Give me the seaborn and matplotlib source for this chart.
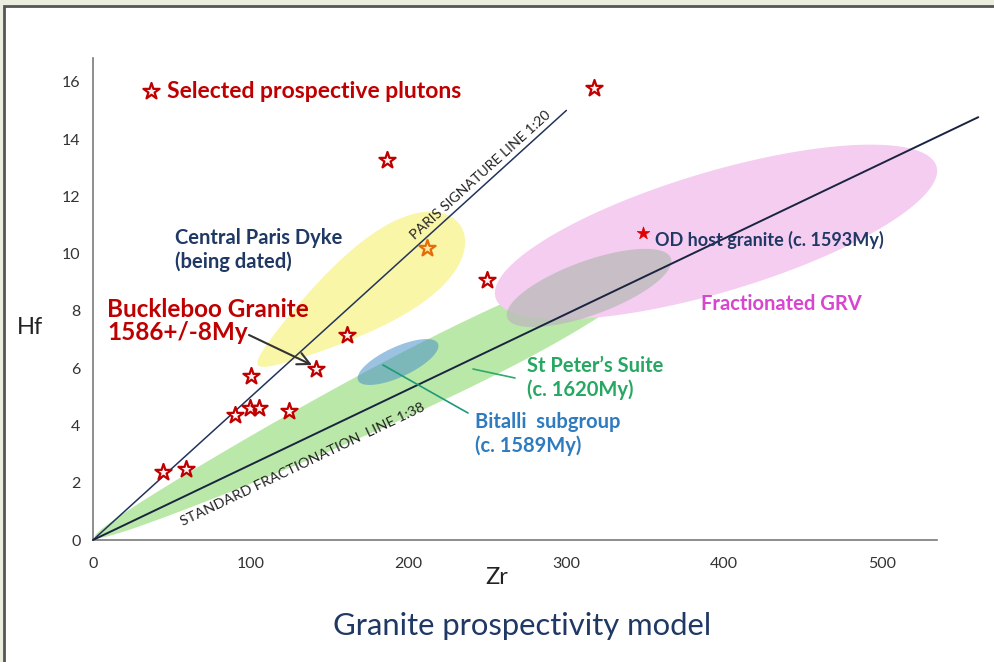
import numpy as np
import matplotlib
matplotlib.use("Agg")
import matplotlib.pyplot as plt
from matplotlib.patches import Polygon, Rectangle
import seaborn as sns

# ---------------- data ----------------
# Selected prospective plutons (Zr, Hf in ppm)
pluton_zr = [317.5, 186.3, 249.7, 161.0, 141.3, 100.1, 90.0, 99.5, 105.2, 124.2, 44.4, 58.9]
pluton_hf = [15.78, 13.27, 9.08, 7.16, 5.97, 5.73, 4.36, 4.61, 4.61, 4.50, 2.37, 2.48]

# Central Paris Dyke sample
dyke_zr = [211.7]
dyke_hf = [10.20]

# OD host granite
od_zr = [348.5]
od_hf = [10.72]

# Reference ratio lines (Zr : Hf)
paris_ratio = 20
paris_zr_end = 300
standard_ratio = 38
standard_zr_end = 561

# Compositional fields: end points of each field's long axis (Zr, Hf)
field_names = ["St Peter's Suite", "Fractionated GRV", "GRV / St Peter's overlap",
               "Bitalli subgroup", "Central Paris Dyke"]
field_zr = [(1.3, 356.0), (255.1, 534.5), (262.5, 366.2), (168.0, 218.6), (104.6, 232.6)]
field_hf = [(0.10, 9.70), (8.46, 13.05), (7.76, 9.84), (5.57, 6.86), (6.11, 11.00)]

x_ticks = [0, 100, 200, 300, 400, 500]
y_ticks = [0, 2, 4, 6, 8, 10, 12, 14, 16]

# ---------------- styling ----------------
sns.set_theme(style="white")
plt.rcParams["font.family"] = ["Lato", "DejaVu Sans"]

RED = "#C00000"
NAVY = "#1F3864"

field_style = {
    "St Peter's Suite":          dict(width=62, skew=0.4, fc="#BAE8A8", alpha=1.0, z=1),
    "Fractionated GRV":          dict(width=120, skew=0.0, fc="#F4CDF1", alpha=1.0, z=1),
    "GRV / St Peter's overlap":  dict(width=54, skew=0.0, fc="#BDBBBB", alpha=0.8, z=2),
    "Bitalli subgroup":          dict(width=30, skew=0.0, fc="#4A90C8", alpha=0.55, z=2),
    "Central Paris Dyke":        dict(width=85, skew=0.5, fc="#FAF6A8", alpha=1.0, z=1),
}

W, H = 995, 662
fig = plt.figure(figsize=(W / 100, H / 100), dpi=100)
fig.patch.set_facecolor("#EBEEDE")
fig.patches.append(Rectangle((4 / W, -0.02), 1.05, 1 - 6 / H + 0.02,
                             transform=fig.transFigure, fc="white",
                             ec="#555555", lw=2, zorder=-10))

px_x, px_y = 1.578, 28.64          # pixels per data unit
ax_w, ax_h = 885, 482
ax = fig.add_axes([93 / W, 122 / H, ax_w / W, ax_h / H])
ax.set_zorder(5)
ax.set_facecolor("none")
ax.set_xlim(0, ax_w / px_x)
ax.set_ylim(0, ax_h / px_y)


def draw_field(ax, zr_pair, hf_pair, width, skew, fc, alpha, z):
    """Egg-shaped field along the axis between two (Zr, Hf) points."""
    p = ax.transData.transform(np.column_stack([zr_pair, hf_pair]))
    c = p.mean(axis=0)
    d = p[1] - p[0]
    L = np.hypot(*d)
    u = d / L
    n = np.array([-u[1], u[0]])
    t = np.linspace(0, 2 * np.pi, 300)
    uu = np.linspace(-1, 1, 2001)
    m = (np.sqrt(1 - uu ** 2) * (1 + skew * uu)).max()
    half = (width / 2) * np.sin(t) * (1 + skew * np.cos(t)) / m
    pts = c + np.outer(L / 2 * np.cos(t), u) + np.outer(half, n)
    data = ax.transData.inverted().transform(pts)
    ax.add_patch(Polygon(data, closed=True, lw=0, fc=fc, alpha=alpha, zorder=z))


for name, zp, hp in zip(field_names, field_zr, field_hf):
    draw_field(ax, zp, hp, **field_style[name])

# ratio lines
xs_p = np.array([0, paris_zr_end])
sns.lineplot(x=xs_p, y=xs_p / paris_ratio, color="#22345C", lw=1.1, ax=ax, zorder=3)
xs_s = np.array([0, standard_zr_end])
sns.lineplot(x=xs_s, y=xs_s / standard_ratio, color="#1A2440", lw=1.4, ax=ax,
             zorder=3, clip_on=False)

# samples
sns.scatterplot(x=pluton_zr, y=pluton_hf, marker="*", s=150, color="#FFF4F4",
                edgecolor=RED, linewidth=1.6, zorder=6, ax=ax,
                label="Selected prospective plutons")
sns.scatterplot(x=dyke_zr, y=dyke_hf, marker="*", s=150, color="#FFE9A0",
                edgecolor="#E46C0A", linewidth=1.6, zorder=6, ax=ax, legend=False)
sns.scatterplot(x=od_zr, y=od_hf, marker="*", s=90, color="#E00000",
                edgecolor="#E00000", linewidth=0.5, zorder=6, ax=ax, legend=False)

leg = ax.legend(loc="center left", bbox_to_anchor=((141 - 93) / ax_w, (540 - 91) / ax_h),
                frameon=False, handlelength=0.9, handletextpad=0.25, borderpad=0,
                borderaxespad=0, prop=dict(weight="bold", size=16.5), labelcolor=RED)

# axes cosmetics
sns.despine(ax=ax)
for side in ("left", "bottom"):
    ax.spines[side].set_color("#7A7A7A")
    ax.spines[side].set_linewidth(1.2)
ax.spines["bottom"].set_bounds(0, (937 - 93) / px_x)
ax.spines["left"].set_bounds(0, ax_h / px_y)
ax.set_xticks(x_ticks)
ax.set_yticks(y_ticks)
ax.tick_params(length=0, labelsize=11.5, colors="#333333")
ax.tick_params(axis="x", pad=12)
ax.tick_params(axis="y", pad=9)
ax.set_xlabel("Zr", fontsize=17, color="#222222")
ax.set_ylabel("Hf", fontsize=17, color="#222222", rotation=0)
ax.xaxis.set_label_coords((497 - 93) / ax_w, (540 - 578) / ax_h)
ax.yaxis.set_label_coords((30 - 93) / ax_w, (540 - 328) / ax_h)
ax.xaxis.label.set_va("center")
ax.yaxis.label.set_va("center")


def to_data(px, py):
    return (px - 93) / px_x, (540 - py) / px_y


def line_angle(ratio):
    p0 = ax.transData.transform((0, 0))
    p1 = ax.transData.transform((100, 100 / ratio))
    return np.degrees(np.arctan2(p1[1] - p0[1], p1[0] - p0[0]))


# line labels
a_p = line_angle(paris_ratio)
th = np.radians(a_p)
ax.annotate("PARIS SIGNATURE LINE 1:20", xy=(250, 250 / paris_ratio),
            xytext=(-np.sin(th) * 10, np.cos(th) * 10), textcoords="offset pixels",
            rotation=a_p, rotation_mode="anchor", ha="center", va="center",
            fontsize=10.2, color="#222222", zorder=7)
a_s = line_angle(standard_ratio)
th = np.radians(a_s)
ax.annotate("STANDARD FRACTIONATION  LINE 1:38", xy=(127, 127 / standard_ratio),
            xytext=(np.sin(th) * 22, -np.cos(th) * 22), textcoords="offset pixels",
            rotation=a_s, rotation_mode="anchor", ha="center", va="center",
            fontsize=10.4, color="#222222", zorder=7)

# field and sample labels
ax.text(*to_data(175, 250), "Central Paris Dyke\n(being dated)", color=NAVY,
        fontsize=14.5, fontweight="bold", ha="left", va="center", linespacing=1.15)
ax.text(*to_data(107, 321), "Buckleboo Granite\n1586+/-8My", color=RED,
        fontsize=17.5, fontweight="bold", ha="left", va="center", linespacing=0.98)
ax.text(*to_data(655, 240), "OD host granite (c. 1593My)", color=NAVY,
        fontsize=13, fontweight="bold", ha="left", va="center", zorder=7)
ax.text(*to_data(701, 304), "Fractionated GRV", color="#D845CF",
        fontsize=14.5, fontweight="bold", ha="left", va="center")
ax.text(*to_data(527, 378), "St Peter\u2019s Suite\n(c. 1620My)", color="#27A862",
        fontsize=14.5, fontweight="bold", ha="left", va="center", linespacing=1.15)
ax.text(*to_data(475, 434), "Bitalli  subgroup\n(c. 1589My)", color="#2E7BC0",
        fontsize=14.5, fontweight="bold", ha="left", va="center", linespacing=1.15)

# leader lines and arrow
ax.annotate("", xy=to_data(312, 365), xytext=to_data(249, 335),
            arrowprops=dict(arrowstyle="->", color="#333333", lw=1.5,
                            mutation_scale=22, shrinkA=0, shrinkB=0), zorder=7)
sp = np.array([to_data(473, 369), to_data(515, 378)])
ax.plot(sp[:, 0], sp[:, 1], color="#2EAA6A", lw=1.2, zorder=4)
bt = np.array([to_data(383, 365), to_data(468, 413)])
ax.plot(bt[:, 0], bt[:, 1], color="#1D9A7A", lw=1.2, zorder=4)

fig.text(522 / W, 1 - 626 / H, "Granite prospectivity model", color=NAVY,
         fontsize=22.3, ha="center", va="center")

fig.savefig("out.png", dpi=100, facecolor=fig.get_facecolor())
